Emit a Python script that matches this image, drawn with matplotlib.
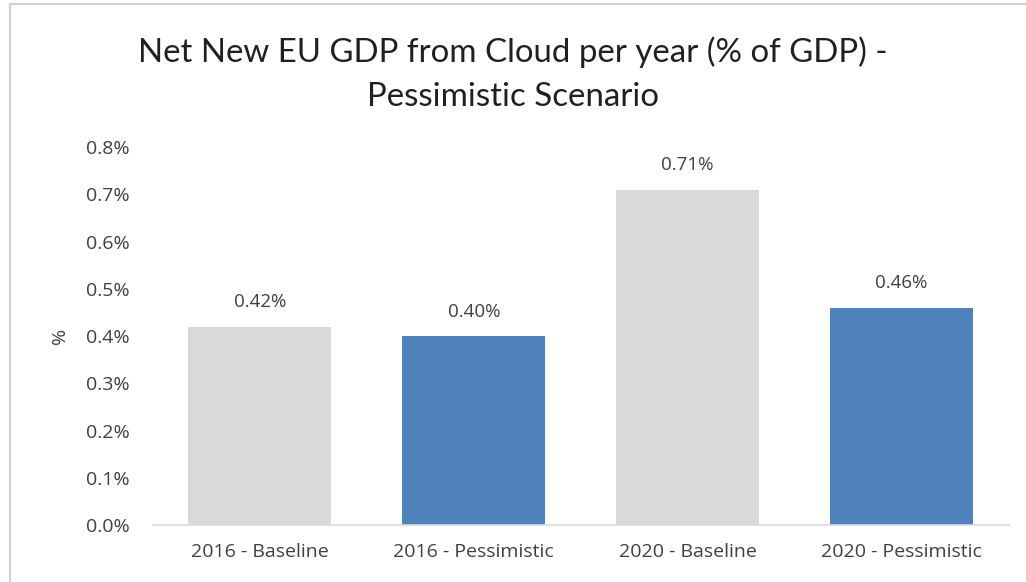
import matplotlib.pyplot as plt
from matplotlib.lines import Line2D

plt.rcParams['font.family'] = ['Open Sans', 'DejaVu Sans']

# Данные графика
categories = ['2016 - Baseline', '2016 - Pessimistic', '2020 - Baseline', '2020 - Pessimistic']
values = [0.42, 0.40, 0.71, 0.46]
value_labels = ['0.42%', '0.40%', '0.71%', '0.46%']
y_ticks = [0.0, 0.1, 0.2, 0.3, 0.4, 0.5, 0.6, 0.7, 0.8]
bar_colors = ['#D9D9D9', '#4F81BD', '#D9D9D9', '#4F81BD']

fig = plt.figure(figsize=(10.26, 5.82), dpi=100)
ax = fig.add_axes([0.149, 0.098, 0.834, 0.649])

# Строим столбцы
x = range(len(categories))
bars = ax.bar(x, values, width=0.667, color=bar_colors)

# Подписи значений над столбцами
for rect, lab in zip(bars, value_labels):
    ax.annotate(lab, (rect.get_x() + rect.get_width() / 2, rect.get_height()),
                xytext=(0, 11), textcoords='offset points',
                ha='center', va='bottom', fontsize=13.5, color='#404040')

ax.set_xlim(-0.5, 3.5)
ax.set_ylim(0, 0.8)
ax.set_xticks(list(x))
ax.set_xticklabels(categories, fontsize=14, color='#404040')
ax.set_yticks(y_ticks)
ax.set_yticklabels(['%.1f%%' % t for t in y_ticks], fontsize=14, color='#404040')
ax.tick_params(axis='both', length=0)
ax.tick_params(axis='y', pad=17)
ax.tick_params(axis='x', pad=13)

for side in ['top', 'right', 'left']:
    ax.spines[side].set_visible(False)
ax.spines['bottom'].set_color('#D9D9D9')
ax.spines['bottom'].set_linewidth(1.2)

ax.set_ylabel('%', fontsize=14, color='#404040', labelpad=12)

# Заголовок (Lato ближе по ширине к оригиналу)
fig.text(0.5, 0.873, 'Net New EU GDP from Cloud per year (% of GDP) -\nPessimistic Scenario',
         ha='center', va='center', fontsize=23.8, color='#202020', linespacing=1.6,
         family=['Lato', 'DejaVu Sans'])

# Рамка области диаграммы (видна сверху и слева)
fig.add_artist(Line2D([9.5 / 1026, 1.0], [1 - 3.5 / 582, 1 - 3.5 / 582],
                      transform=fig.transFigure, color='#D0D0D0', lw=1.5))
fig.add_artist(Line2D([9.5 / 1026, 9.5 / 1026], [0.0, 1 - 3.5 / 582],
                      transform=fig.transFigure, color='#D0D0D0', lw=1.5))

plt.savefig('out.png', dpi=100)
